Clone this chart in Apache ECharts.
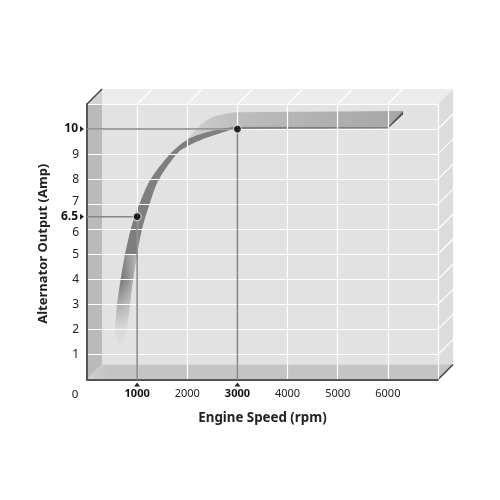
<!DOCTYPE html>
<html><head><meta charset="utf-8">
<style>html,body{margin:0;padding:0;background:#fff}#c{width:500px;height:500px}</style>
<script src="https://cdn.jsdelivr.net/npm/echarts@6/dist/echarts.min.js"></script>
</head><body><div id="c"></div>
<script>
const xTicks = [0, 1000, 2000, 3000, 4000, 5000, 6000];
const yTicks = [1, 2, 3, 4, 5, 6, 6.5, 7, 8, 9, 10];
const boldValues = [1000, 3000];
const callouts = [[1000, 6.5], [3000, 10]];
const depthRpm = 300;
const depthAmp = 0.6;
const bandTip = [640, 1.15];
const bandTopRpm = [558, 598, 672, 758, 872, 951, 1043, 1270, 1655, 1988, 2313, 2653, 2912, 6003];
const bandTopAmp = [2, 3, 4, 5, 6, 6.5, 7, 8, 9, 9.56, 9.83, 10.0, 10.09, 10.09];
const bandLowRpm = [798, 858, 917, 997, 1097, 1247, 1436, 1789, 1988, 2313, 2653, 2912, 6003];
const bandLowAmp = [2, 3, 4, 5, 6, 7, 8, 9, 9.29, 9.6, 9.83, 10.0, 10.02];
const ribbonRpm = [1988, 2214, 2453, 2712, 2952, 6303, 6003];
const ribbonAmp = [9.56, 10.06, 10.43, 10.59, 10.67, 10.72, 10.09];
const xMax = 7000, yMax = 11;

const zip = (a, b) => a.map((v, i) => [v, b[i]]);
const G = echarts.graphic.LinearGradient;
// Catmull-Rom through pixel points; only changes how the read points are joined on screen.
function spline(p) {
  const out = [];
  for (let i = 0; i < p.length - 1; i++) {
    const a = p[Math.max(i - 1, 0)], b = p[i], c = p[i + 1], d = p[Math.min(i + 2, p.length - 1)];
    for (let k = 0; k < 8; k++) {
      const t = k / 8, t2 = t * t, t3 = t2 * t;
      out.push([0, 1].map(j => 0.5 * (2 * b[j] + (c[j] - a[j]) * t + (2 * a[j] - 5 * b[j] + 4 * c[j] - d[j]) * t2 + (3 * b[j] - a[j] - 3 * c[j] + d[j]) * t3)));
    }
  }
  out.push(p[p.length - 1]);
  return out;
}
function custom(renderItem, data, z) {
  return { type: 'custom', coordinateSystem: 'cartesian2d', silent: true, z: z === undefined ? -1 : z,
    animation: false, data: data || [[0, 0]], renderItem };
}
function poly(points, fill) {
  return custom((p, api) => ({ type: 'polygon', shape: { points: points.map(q => api.coord(q)) }, style: { fill } }));
}
function curved(build, fill) {
  return custom((p, api) => ({ type: 'polygon', shape: { points: build(q => api.coord(q)) }, style: { fill } }));
}
function segs(list, color, width) {
  return custom((p, api) => {
    const a = api.coord(list[p.dataIndex][0]), b = api.coord(list[p.dataIndex][1]);
    return { type: 'line', shape: { x1: a[0], y1: a[1], x2: b[0], y2: b[1] }, style: { stroke: color, lineWidth: width } };
  }, list.map((s, i) => [i, 0]));
}
const X = depthRpm, Y = depthAmp;
const topPts = zip(bandTopRpm, bandTopAmp), lowPts = zip(bandLowRpm, bandLowAmp);
const ribPts = zip(ribbonRpm, ribbonAmp);
const bandShape = c => {
  const t = topPts.map(c), l = lowPts.map(c);
  return [c(bandTip)].concat(spline(t.slice(0, -1)), [t[t.length - 1], l[l.length - 1]], spline(l.slice(0, -1)).reverse());
};
const ribbonShape = c => {
  const r = ribPts.map(c), t = topPts.map(c).filter((q, i) => bandTopRpm[i] >= 1988);
  return spline(r.slice(0, 5)).concat([r[5], r[6]], spline(t.slice(0, -1)).reverse());
};
const fadeShape = c => {
  const t = topPts.filter(q => q[1] <= 5).map(c), l = lowPts.filter(q => q[1] <= 5).map(c);
  return [c(bandTip)].concat(spline(t), spline(l).reverse());
};
const series = [
  poly([[X, Y], [xMax, Y], [xMax, yMax], [X, yMax]], '#e2e2e2'),
  poly([[0, yMax], [xMax, yMax], [xMax + X, yMax + Y], [X, yMax + Y]], '#ececec'),
  poly([[xMax, 0], [xMax + X, Y], [xMax + X, yMax + Y], [xMax, yMax]], '#dcdcdc'),
  poly([[0, 0], [X, Y], [X, yMax], [0, yMax]], '#bababa'),
  poly([[0, yMax], [X, yMax], [X, yMax + Y]], '#d4d4d4'),
  poly([[0, 0], [xMax, 0], [xMax + X, Y], [X, Y]], new G(0, 0, 1, 0, [{ offset: 0, color: '#cfcfcf' }, { offset: 0.06, color: '#c4c4c4' }, { offset: 1, color: '#c4c4c4' }])),
  segs(xTicks.slice(1).map(v => [[v, yMax], [v + X, yMax + Y]]), '#fff', 1.2),
  segs(yTicks.filter(v => Number.isInteger(v)).map(v => [[xMax, v], [xMax + X, v + Y]]), '#fff', 1.2),
  segs([[[0, yMax], [X, yMax + Y]], [[xMax, 0], [xMax + X, Y]]], '#444', 1.5),
  curved(ribbonShape, new G(0, 0, 1, 0, [{ offset: 0, color: '#d0d0d0' }, { offset: 0.25, color: '#bcbcbc' }, { offset: 1, color: '#a6a6a6' }])),
  curved(bandShape, new G(0, 0, 0, 1, [
    { offset: 0, color: '#7f7f7f' }, { offset: 0.57, color: '#7e7e7e' }, { offset: 0.68, color: '#747474' },
    { offset: 0.79, color: '#adadad' }, { offset: 0.905, color: '#d8d8d8' }, { offset: 1, color: '#e2e2e2' }])),
  curved(fadeShape, new G(0, 0, 1, 0, [{ offset: 0.25, color: 'rgba(226,226,226,0)' }, { offset: 1, color: 'rgba(226,226,226,0.6)' }])),
  poly([[6003, 10.02], [6303, 10.58], [6303, 10.72], [6003, 10.09]], '#555555'),
  custom((p, api) => {
    const c = api.coord([api.value(0), api.value(1)]), o = api.coord([0, 0]);
    const s = { fill: '#222' };
    return { type: 'group', children: [
      { type: 'polygon', shape: { points: [[c[0] - 3, o[1] + 7], [c[0] + 3, o[1] + 7], [c[0], o[1] + 3]] }, style: s },
      { type: 'polygon', shape: { points: [[o[0] - 7, c[1] - 3], [o[0] - 7, c[1] + 3], [o[0] - 3, c[1]]] }, style: s }
    ] };
  }, callouts, 4)
];
callouts.forEach(c => series.push({
  type: 'line', silent: true, z: 3, symbol: 'none', animation: false,
  data: [[0, c[1]], [c[0], c[1]], [c[0], 0]],
  lineStyle: { color: '#868686', width: 1.5 }
}));
series.push({
  type: 'scatter', z: 5, silent: true, animation: false, symbolSize: 8, data: callouts,
  itemStyle: { color: '#000', borderColor: '#eee', borderWidth: 1.2 }
});

const font = '"Noto Sans"';
echarts.init(document.getElementById('c'), null, { renderer: 'canvas' }).setOption({
  animation: false,
  backgroundColor: '#fff',
  grid: { left: 87, top: 104, width: 351, height: 275.5 },
  xAxis: {
    type: 'value', min: 0, max: xMax, interval: 1000,
    name: 'Engine Speed (rpm)', nameLocation: 'middle', nameGap: 32,
    nameTextStyle: { color: '#222', fontFamily: font, fontWeight: 'bold', fontSize: 13.3 },
    axisLine: { show: true, lineStyle: { color: '#555', width: 2 } },
    axisTick: { show: false },
    splitLine: { show: true, showMinLine: false, lineStyle: { color: '#fff', width: 1.2 } },
    axisLabel: {
      customValues: xTicks, margin: 9, showMinLabel: true, color: '#222', fontFamily: font, fontSize: 11,
      formatter: v => v === 0 ? '{z|0}' : (boldValues.includes(v) ? '{b|' + v + '}' : '' + v),
      rich: { b: { fontWeight: 'bold', fontSize: 11, fontFamily: font, color: '#111' },
              z: { padding: [0, 24, 0, 0], fontSize: 11.5, fontFamily: font, color: '#222' } }
    }
  },
  yAxis: {
    type: 'value', min: 0, max: yMax, interval: 1,
    name: 'Alternator Output (Amp)', nameLocation: 'middle', nameGap: 36,
    nameTextStyle: { color: '#222', fontFamily: font, fontWeight: 'bold', fontSize: 13, padding: [0, 4, 0, 0] },
    axisLine: { show: true, lineStyle: { color: '#555', width: 2 } },
    axisTick: { show: false },
    splitLine: { show: true, showMinLine: false, lineStyle: { color: '#fff', width: 1.2 } },
    axisLabel: {
      customValues: yTicks, margin: 8, color: '#222', fontFamily: font, fontSize: 12,
      formatter: v => v === 10 || v === 6.5 ? '{b|' + v + '}' : (v === 7 ? '{u|7}' : (v === 6 ? '{d|6}' : '' + v)),
      rich: { b: { fontWeight: 'bold', fontSize: 12, fontFamily: font, color: '#111', padding: [0, 1, 0, 0] },
              u: { padding: [0, 0, 5, 0], fontSize: 12, fontFamily: font, color: '#222' },
              d: { padding: [7, 0, 0, 0], fontSize: 12, fontFamily: font, color: '#222' } }
    }
  },
  series
});
</script></body></html>
